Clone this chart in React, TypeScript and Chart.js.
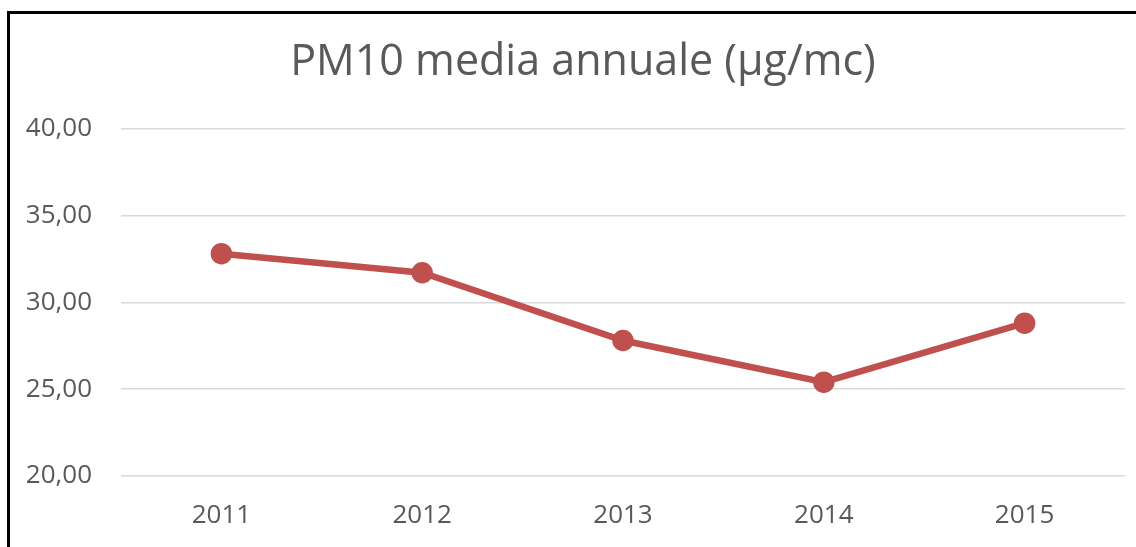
import React, { useEffect, useRef } from "react";
import { Chart, registerables } from "chart.js";

Chart.register(...registerables);

const categories = ["2011", "2012", "2013", "2014", "2015"];
const pm10Values = [32.8, 31.7, 27.8, 25.4, 28.8];
const yTicks = [20, 25, 30, 35, 40];
const titleText = "PM10 media annuale (µg/mc)";

export default function App() {
  const ref = useRef<HTMLCanvasElement | null>(null);

  useEffect(() => {
    if (!ref.current) return;
    const chart = new Chart(ref.current, {
      type: "line",
      data: {
        labels: categories,
        datasets: [
          {
            data: pm10Values,
            borderColor: "#C0504D",
            backgroundColor: "#C0504D",
            borderWidth: 6.5,
            pointRadius: 7.5,
            pointHoverRadius: 7.5,
            pointBackgroundColor: "#C0504D",
            pointBorderColor: "#C0504D",
            tension: 0,
            yAxisID: "y",
          },
        ],
      },
      options: {
        responsive: false,
        animation: false,
        layout: { padding: { left: 0, right: 0, top: 0, bottom: 0 } },
        plugins: {
          legend: { display: false },
          tooltip: { enabled: false },
          title: {
            display: true,
            text: titleText,
            color: "#595959",
            font: { family: "'Open Sans', sans-serif", size: 43, weight: "normal" },
            padding: { top: 23, bottom: 40 },
          },
        },
        scales: {
          x: {
            offset: true,
            grid: { display: false, drawTicks: false },
            border: { display: false },
            ticks: {
              color: "#595959",
              font: { family: "'Open Sans', sans-serif", size: 26 },
              padding: 24,
              maxRotation: 0,
            },
            afterFit: (scale: any) => {
              scale.height = 71;
            },
          },
          y: {
            min: 20,
            max: 40,
            afterBuildTicks: (scale: any) => {
              scale.ticks = yTicks.map((v) => ({ value: v }));
            },
            grid: { color: "#D9D9D9", lineWidth: 1.5, drawTicks: false },
            border: { display: false },
            ticks: {
              color: "#595959",
              font: { family: "'Open Sans', sans-serif", size: 26 },
              padding: 29,
              callback: (v: any) => Number(v).toFixed(2).replace(".", ","),
            },
            afterFit: (scale: any) => {
              scale.width = 111;
            },
          },
          yRight: {
            type: "linear",
            position: "right",
            min: 20,
            max: 40,
            grid: { display: false, drawTicks: false },
            border: { display: false },
            ticks: { display: false },
            afterFit: (scale: any) => {
              scale.width = 31;
            },
          },
        },
      },
    });
    return () => chart.destroy();
  }, []);

  return (
    <div
      style={{
        position: "fixed",
        left: 0,
        top: 0,
        width: 1136,
        height: 547,
        background: "#fff",
        overflow: "hidden",
      }}
    >
      <canvas
        ref={ref}
        width={1146}
        height={533}
        style={{ display: "block", position: "absolute", left: 10, top: 14 }}
      />
      <div
        style={{
          position: "absolute",
          left: 7,
          top: 11,
          width: 1129,
          height: 536,
          borderTop: "3px solid #000",
          borderLeft: "3px solid #000",
          pointerEvents: "none",
        }}
      />
    </div>
  );
}
